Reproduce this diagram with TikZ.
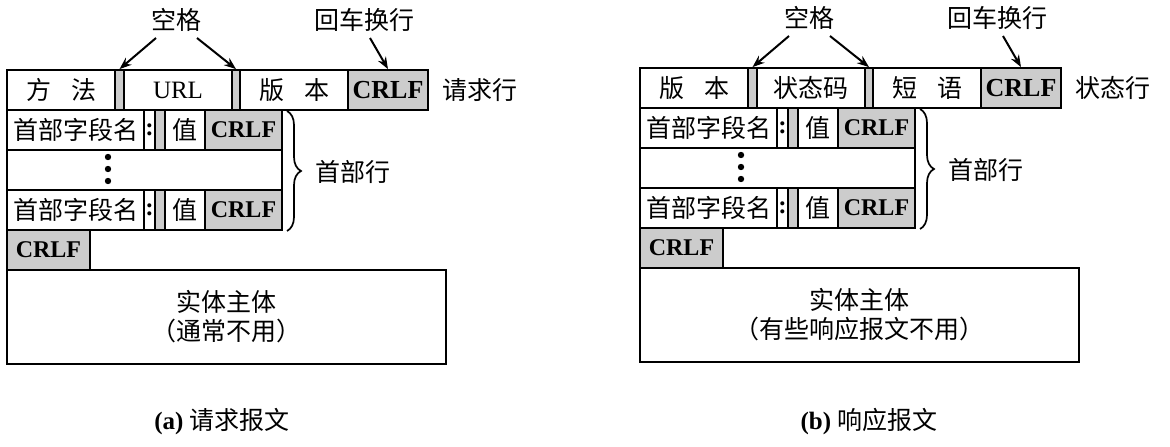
\documentclass[tikz,border=0pt]{standalone}
\usepackage{fontspec}
\setmainfont{Liberation Serif}
\newfontfamily\cjk{Noto Sans CJK SC}
\usetikzlibrary{arrows.meta,decorations.pathreplacing}
\begin{document}
\begin{tikzpicture}[x=1pt,y=-1pt,
  cell/.style={draw, line width=1.8pt, inner sep=0pt, minimum height=40pt, font=\cjk\fontsize{25}{28}\selectfont},
  gcell/.style={cell, fill=black!20},
  crlfbox/.style={gcell, font=\bfseries\fontsize{24}{28}\selectfont},
  colonbox/.style={cell, font=\bfseries\fontsize{25}{26}\selectfont},
  lbl/.style={font=\cjk\fontsize{25}{28}\selectfont, inner sep=0pt},
  arr/.style={line width=2pt, -{Stealth[length=12pt,width=9pt]}},
  bracestyle/.style={line width=1.7pt, decorate, decoration={brace, amplitude=14pt}},
  dotmark/.style={fill=black},
]
\useasboundingbox (0,0) rectangle (1170,447);

% ---------------- (a) request ----------------
\node[cell, minimum width=108pt] (aM) at (61,90) {方\hspace{0.8em}法};
\node[gcell, minimum width=9pt] (aS1) at (119.5,90) {};
\node[cell, minimum width=108pt, font=\fontsize{25}{26}\selectfont] (aU) at (178,90) {URL};
\node[gcell, minimum width=8pt] (aS2) at (236,90) {};
\node[cell, minimum width=108pt] (aV) at (294,90) {版\hspace{0.8em}本};
\node[crlfbox, minimum width=80pt, font=\bfseries\fontsize{26}{28}\selectfont] (aC) at (388,90) {CRLF};
\node[lbl, anchor=west] (aRL) at ([xshift=13pt]aC.east) {请求行};

\node[cell, minimum width=137pt] (aH1n) at (75.5,130) {首部字段名};
\node[colonbox, minimum width=11pt] (aH1c) at (149.5,130) {:};
\node[gcell, minimum width=10pt] (aH1g) at (160,130) {};
\node[cell, minimum width=40pt] (aH1v) at (185,130) {值};
\node[crlfbox, minimum width=77pt] (aH1r) at (243.5,130) {CRLF};

\node[cell, minimum width=275pt] (aD) at (144.5,170) {};
\coordinate (aDc) at (108,169);
\fill[dotmark] ([yshift=-12pt]aDc) circle (3.2pt) (aDc) circle (3.2pt) ([yshift=12pt]aDc) circle (3.2pt);

\node[cell, minimum width=137pt] (aH3n) at (75.5,210) {首部字段名};
\node[colonbox, minimum width=11pt] (aH3c) at (149.5,210) {:};
\node[gcell, minimum width=10pt] (aH3g) at (160,210) {};
\node[cell, minimum width=40pt] (aH3v) at (185,210) {值};
\node[crlfbox, minimum width=77pt] (aH3r) at (243.5,210) {CRLF};

\node[crlfbox, minimum width=83pt] (aE) at (48.5,250) {CRLF};
\node[cell, minimum width=439pt, minimum height=94pt, align=center, font=\cjk\fontsize{25}{29}\selectfont] (aB) at (226.5,317) {实体主体\\（通常不用）};

\coordinate (aBr1) at (287,111);
\coordinate (aBr2) at (287,231);
\draw[bracestyle] (aBr1) -- (aBr2);
\node[lbl] (aHL) at (353,172) {首部行};

\node[lbl] (aKG) at (176,20) {空格};
\node[lbl] (aHC) at (364,20) {回车换行};
\coordinate (aK1) at (156,38);
\coordinate (aK2) at (197,38);
\coordinate (aK3) at (370,38);
\draw[arr] (aK1) -- (aS1.north);
\draw[arr] (aK2) -- (aS2.north);
\draw[arr] (aK3) -- (aC.north);

\node[inner sep=0pt] (aCap) at (222,422) {\fontsize{25}{28}\selectfont\textbf{(a)} {\cjk 请求报文}};

% ---------------- (b) response ----------------
\begin{scope}[xshift=633pt, yshift=2pt]
\node[cell, minimum width=108pt] (bV) at (61,90) {版\hspace{0.8em}本};
\node[gcell, minimum width=9pt] (bS1) at (119.5,90) {};
\node[cell, minimum width=108pt] (bSC) at (178,90) {状态码};
\node[gcell, minimum width=8pt] (bS2) at (236,90) {};
\node[cell, minimum width=108pt] (bP) at (294,90) {短\hspace{0.8em}语};
\node[crlfbox, minimum width=80pt, font=\bfseries\fontsize{26}{28}\selectfont] (bC) at (388,90) {CRLF};
\node[lbl, anchor=west] (bRL) at ([xshift=13pt]bC.east) {状态行};

\node[cell, minimum width=137pt] (bH1n) at (75.5,130) {首部字段名};
\node[colonbox, minimum width=11pt] (bH1c) at (149.5,130) {:};
\node[gcell, minimum width=10pt] (bH1g) at (160,130) {};
\node[cell, minimum width=40pt] (bH1v) at (185,130) {值};
\node[crlfbox, minimum width=77pt] (bH1r) at (243.5,130) {CRLF};

\node[cell, minimum width=275pt] (bD) at (144.5,170) {};
\coordinate (bDc) at (108,169);
\fill[dotmark] ([yshift=-12pt]bDc) circle (3.2pt) (bDc) circle (3.2pt) ([yshift=12pt]bDc) circle (3.2pt);

\node[cell, minimum width=137pt] (bH3n) at (75.5,210) {首部字段名};
\node[colonbox, minimum width=11pt] (bH3c) at (149.5,210) {:};
\node[gcell, minimum width=10pt] (bH3g) at (160,210) {};
\node[cell, minimum width=40pt] (bH3v) at (185,210) {值};
\node[crlfbox, minimum width=77pt] (bH3r) at (243.5,210) {CRLF};

\node[crlfbox, minimum width=83pt] (bE) at (48.5,250) {CRLF};
\node[cell, minimum width=439pt, minimum height=94pt, align=center, font=\cjk\fontsize{25}{29}\selectfont] (bB) at (226.5,317) {实体主体\\（有些响应报文不用）};

\coordinate (bBr1) at (287,111);
\coordinate (bBr2) at (287,231);
\draw[bracestyle] (bBr1) -- (bBr2);
\node[lbl] (bHL) at (353,172) {首部行};

\node[lbl] (bKG) at (176,20) {空格};
\node[lbl] (bHC) at (364,20) {回车换行};
\coordinate (bK1) at (156,38);
\coordinate (bK2) at (197,38);
\coordinate (bK3) at (370,38);
\draw[arr] (bK1) -- (bS1.north);
\draw[arr] (bK2) -- (bS2.north);
\draw[arr] (bK3) -- (bC.north);
\end{scope}

\node[inner sep=0pt] (bCap) at (869,422) {\fontsize{25}{28}\selectfont\textbf{(b)} {\cjk 响应报文}};
\end{tikzpicture}
\end{document}
